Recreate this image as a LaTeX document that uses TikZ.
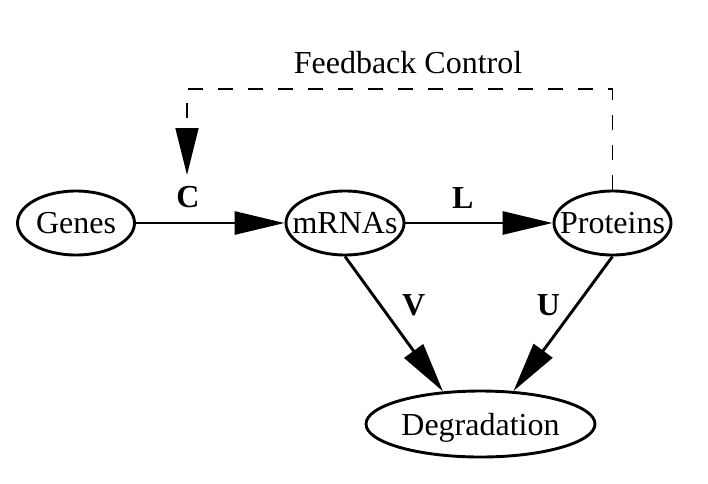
\documentclass[tikz,border=0pt]{standalone}
\usepackage{fontspec}
\setmainfont{Liberation Serif}
\usepackage{tikz}
\usetikzlibrary{shapes.geometric, arrows.meta, positioning}
\newcommand{\ntext}[1]{\makebox[0pt]{#1}}
\tikzstyle{state} = [ellipse, minimum width=117pt, minimum height=64pt, inner sep=0pt, text depth=0pt, text centered, draw=black, line width=2.9pt]
\tikzstyle{arrow} = [line width=2.9pt, -{Triangle[length=50pt, width=23pt]}]
\tikzstyle{feedback} = [line width=1.4pt, dash pattern=on 15pt off 15pt, -{Triangle[length=47pt, width=23pt]}]
\tikzstyle{rate} = [font=\fontsize{32}{38}\selectfont\bfseries]
\tikzset{every node/.style={align=center}}

\begin{document}
\begin{tikzpicture}[x=1pt, y=-1pt, node distance=269pt, font=\fontsize{32}{38}\selectfont]
    \useasboundingbox (0,0) rectangle (708,483);
    \node (genes) [state] at (76,223) {\ntext{Genes}};
    \node (mrna)  [state, right of=genes, minimum width=118pt] {\ntext{mRNAs}};
    \node (prot)  [state, right of=mrna, xshift=-1.5pt] {\ntext{Proteins}};
    \node (deg)   [state, below of=mrna, xshift=135.5pt, yshift=68pt, minimum width=229pt, minimum height=66pt] {\ntext{Degradation}};
    \coordinate (fbcorner) at (187,89);
    \coordinate (fbend) at (187,175);
    \node (fblabel) at (408,63) {Feedback Control};

    \draw [arrow] (genes) -- node[rate, pos=0.35, above=10pt]{C} (mrna);
    \draw [arrow] (mrna) -- node[rate, pos=0.39, above=10pt]{L} (prot);
    \draw [arrow] (mrna.south) -- node[rate, pos=0.36, right=17pt]{V} (deg.139);
    \draw [arrow] (prot.south) -- node[rate, pos=0.36, left=12pt]{U} (deg.45);
    \draw [feedback] (prot.north) |- (fbcorner) -- (fbend);
\end{tikzpicture}
\end{document}
